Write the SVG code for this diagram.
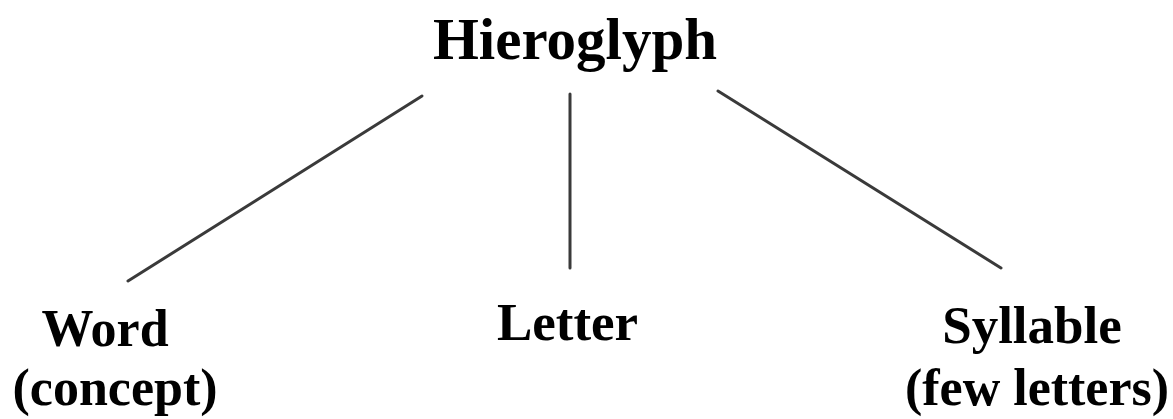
<svg xmlns="http://www.w3.org/2000/svg" width="1173" height="419" viewBox="0 0 1173 419">
  <style>
    .lbl { font-family: "Liberation Serif", "Times New Roman", serif; font-weight: bold; fill: #000; text-anchor: middle; }
    .edge { stroke: #3a3a3a; stroke-width: 3; stroke-linecap: round; fill: none; }
  </style>
  <rect width="1173" height="419" fill="#fff"/>
  <g id="connectors">
    <line class="edge" x1="422" y1="96" x2="128" y2="281"/>
    <line class="edge" x1="570" y1="94" x2="570" y2="268"/>
    <line class="edge" x1="718" y1="91" x2="1001" y2="268"/>
  </g>
  <g id="node-hieroglyph">
    <text class="lbl" x="575" y="59" font-size="59">Hieroglyph</text>
  </g>
  <g id="node-word">
    <text class="lbl" x="105" y="346" font-size="52">Word</text>
    <text class="lbl" x="115" y="405" font-size="52">(concept)</text>
  </g>
  <g id="node-letter">
    <text class="lbl" x="567.5" y="340" font-size="53">Letter</text>
  </g>
  <g id="node-syllable">
    <text class="lbl" x="1032" y="343" font-size="53">Syllable</text>
    <text class="lbl" x="1037" y="405" font-size="52">(few letters)</text>
  </g>
</svg>
